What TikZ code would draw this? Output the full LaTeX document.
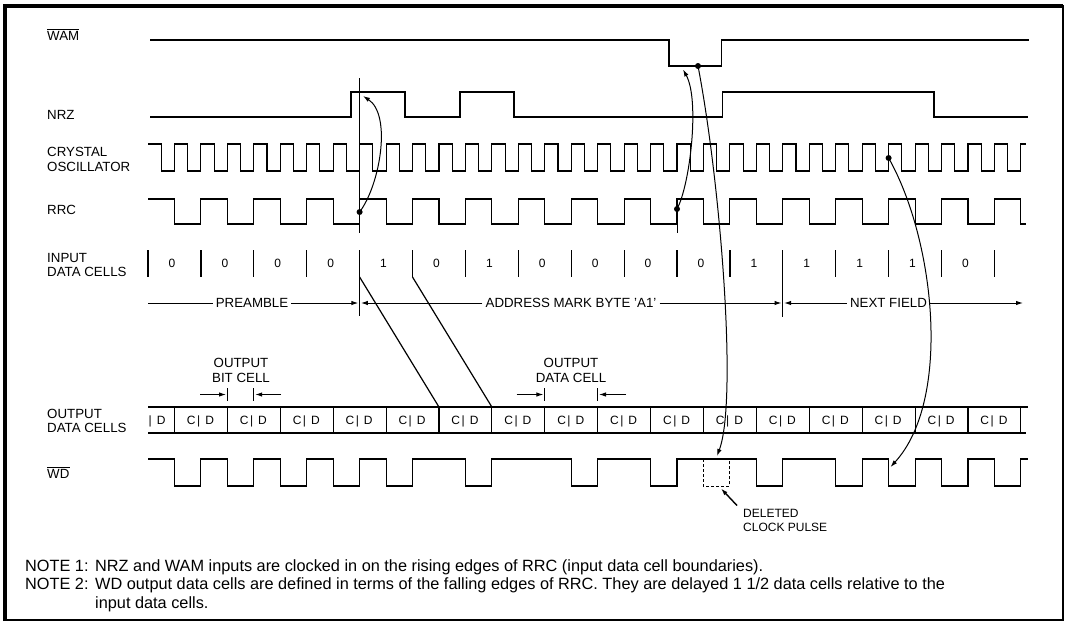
\documentclass[tikz,border=0pt]{standalone}
\usepackage{fontspec}
\setmainfont{Liberation Sans}
\usetikzlibrary{arrows.meta}
\begin{document}
\begin{tikzpicture}[x=1pt,y=-1pt,
  sig/.style={line width=1.1pt},
  thinl/.style={line width=1pt},
  lab/.style={font=\fontsize{13.3}{14.5}\selectfont, anchor=west, inner sep=0pt, align=left},
  mid/.style={font=\fontsize{13.3}{14.5}\selectfont, inner sep=0pt, align=center},
  spanlab/.style={font=\fontsize{13.3}{14.5}\selectfont, inner xsep=3pt, inner ysep=0pt},
  dig/.style={font=\fontsize{12}{14}\selectfont, inner sep=0pt, anchor=base},
  cd/.style={font=\fontsize{12}{14}\selectfont, inner sep=0pt, anchor=base},
  note/.style={font=\fontsize{16.3}{18.5}\selectfont, inner sep=0pt, anchor=base west},
  tip/.style={-{Latex[length=7pt,width=4.5pt]}},
  ovl/.style={line width=1.2pt}]
\useasboundingbox (0,0) rectangle (1067,626);
% frame
\draw[line width=2pt] (5,6) rectangle (1063,620);
\draw[line width=4pt] (5,621) -- (5,6) -- (1063,6);

% left labels
\node[lab] (lwam) at (47,35.5) {WAM};
\draw[ovl] ([yshift=1.6pt]lwam.north west) -- ([yshift=1.6pt]lwam.north east);
\node[lab] (lnrz) at (47,115) {NRZ};
\node[lab] (lxtal) at (47,159.5) {CRYSTAL\\OSCILLATOR};
\node[lab] (lrrc) at (47,209.5) {RRC};
\node[lab] (lin) at (47,265) {INPUT\\DATA CELLS};
\node[lab] (lout) at (47,421) {OUTPUT\\DATA CELLS};
\node[lab] (lwd) at (47,474) {WD};
\draw[ovl] ([yshift=1.6pt]lwd.north west) -- ([yshift=1.6pt]lwd.north east);

% WAM
\draw[sig] (150,40) -- (669,40) -- (669,66) -- (721.7,66) -- (721.7,40) -- (1029,40);
% NRZ
\draw[sig] (150,117) -- (351,117) -- (351,92) -- (405,92) -- (405,117) -- (460,117) -- (460,92)
  -- (514,92) -- (514,117) -- (722.7,117) -- (722.7,92) -- (934,92) -- (934,117) -- (1028,117);
% crystal oscillator
\draw[sig] (148,144) foreach \k in {0,...,32} {
   -- ({148+\k*26.45+13.2},144) -- ({148+\k*26.45+13.2},171)
   -- ({148+(\k+1)*26.45},171) -- ({148+(\k+1)*26.45},144) } -- (1026,144);
% RRC
\draw[sig] (148,199) foreach \k in {0,...,15} {
   -- ({148+\k*52.9+26.45},199) -- ({148+\k*52.9+26.45},224)
   -- ({148+(\k+1)*52.9},224) -- ({148+(\k+1)*52.9},199) }
   -- (1020.85,199) -- (1020.85,224) -- (1026,224);

% reference lines
\draw[line width=1.4pt] (359.6,78) -- (359.6,233);
\draw[thinl] (677,199) -- (677,233);

% input data cells
\foreach \k in {0,...,16} \draw[line width=1.2pt] ({148+\k*52.9},250) -- ++(0,27);
\draw[thinl] (359.6,277) -- (359.6,316);
\draw[thinl] (782.8,277) -- (782.8,317);
\foreach \d [count=\i from 0] in {0,0,0,0,1,0,1,0,0,0,0,1,1,1,1,0}
  \node[dig] (in\i) at ({148+(\i+0.5)*52.9-2.5},267.5) {\d};

% span arrows
\node[spanlab] (pre) at (252,303) {PREAMBLE};
\draw[thinl] (148,303) -- (pre.west);
\draw[thinl,tip] (pre.east) -- (358.3,303);
\node[spanlab] (am) at (571,303) {ADDRESS MARK BYTE 'A1'};
\draw[thinl,tip] (am.west) -- (360.9,303);
\draw[thinl,tip] (am.east) -- (781.5,303);
\node[spanlab] (nf) at (888.5,303) {NEXT FIELD};
\draw[thinl,tip] (nf.west) -- (784.1,303);
\draw[thinl,tip] (nf.east) -- (1023,303);

% delay lines
\draw[line width=1.2pt] (359.6,277) -- (438.95,407);
\draw[line width=1.2pt] (412.5,277) -- (491.85,407);

% output annotations
\node[mid] (obc) at (241,370.5) {OUTPUT\\BIT CELL};
\draw[thinl] (227.35,388) -- ++(0,13);
\draw[thinl] (253.8,388) -- ++(0,13);
\draw[thinl,tip] (200,394.5) -- (226,394.5);
\draw[thinl,tip] (281,394.5) -- (255.2,394.5);
\node[mid] (odc) at (571,370.5) {OUTPUT\\DATA CELL};
\draw[thinl] (544.75,388) -- ++(0,13);
\draw[thinl] (597.65,388) -- ++(0,13);
\draw[thinl,tip] (516.5,394.5) -- (543.4,394.5);
\draw[thinl,tip] (626,394.5) -- (599,394.5);

% output data cells strip
\draw[sig] (148,407) -- (1028,407);
\draw[sig] (148,433) -- (1026,433);
\foreach \k in {0,...,16} \draw[sig] ({174.45+\k*52.9},407) -- ++(0,26);
\node[cd, anchor=base west] (ocp) at (148.5,424.5) {|\hspace{5pt}D};
\foreach \k in {0,...,15}
  \node[cd] (oc\k) at ({174.45+\k*52.9+26},424.5) {C\hspace{1.5pt}|\hspace{5pt}D};

% WD
\draw[sig] (148,459) foreach \a/\b in {174.45/200.9, 227.35/253.8, 280.25/306.7, 333.15/359.6,
   386.05/412.5, 465.4/491.85, 571.2/597.65, 650.55/677, 756.35/782.8, 835.7/862.15,
   888.6/915.05, 941.5/967.95, 994.4/1020.85} {
   -- (\a,459) -- (\a,486) -- (\b,486) -- (\b,459) } -- (1028,459);
\draw[thinl, dash pattern=on 3pt off 2pt] (703.45,459) -- (703.45,486) -- (729.9,486) -- (729.9,459);

% causal arrows
\coordinate (d1) at (359.6,212);
\coordinate (d2) at (677,209);
\coordinate (d3) at (698,66);
\coordinate (d4) at (888.6,158);
\fill (d1) circle (3);
\fill (d2) circle (3);
\fill (d3) circle (3);
\fill (d4) circle (3);
\coordinate (e1) at (363,96);
\coordinate (e2) at (683,69.5);
\coordinate (e3) at (717,456);
\coordinate (e4) at (890.5,467);
\draw[thinl,tip] (d1) .. controls (380,185) and (392,115) .. (e1);
\draw[thinl,tip] (d2) .. controls (690,185) and (700,100) .. (e2);
\draw[thinl,tip] (d3) .. controls (720,180) and (738,400) .. (e3);
\draw[thinl,tip] (d4) .. controls (935,240) and (952,400) .. (e4);

% deleted clock pulse
\node[font=\fontsize{12}{14}\selectfont, inner sep=0pt, anchor=north west, align=left] (del) at (743,509.5) {DELETED\\CLOCK PULSE};
\coordinate (dp) at (721,488.5);
\draw[line width=1.4pt,tip] (del.north west) ++(-6,-4) coordinate (dq) -- (dp);

% notes
\node[note] (n1) at (25,571) {NOTE 1:};
\node[note] (n1t) at (95,571) {NRZ and WAM inputs are clocked in on the rising edges of RRC (input data cell boundaries).};
\node[note] (n2) at (25,589.5) {NOTE 2:};
\node[note] (n2t) at (95,589.5) {WD output data cells are defined in terms of the falling edges of RRC. They are delayed 1 1/2 data cells relative to the};
\node[note] (n3t) at (95,608) {input data cells.};
\end{tikzpicture}
\end{document}
